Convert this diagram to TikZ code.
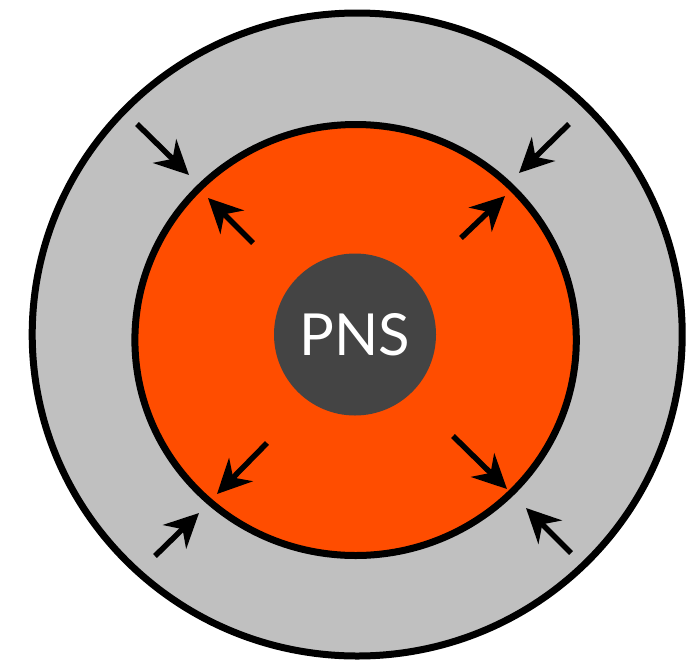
\documentclass[tikz,border=0pt]{standalone}
\usepackage{fontspec}
\setmainfont{Lato}
\usetikzlibrary{arrows.meta}
\definecolor{envgray}{HTML}{C0C0C0}
\definecolor{hotorange}{HTML}{FF4D00}
\definecolor{pnsgray}{HTML}{444444}
\begin{document}
\begin{tikzpicture}[x=1pt, y=-1pt, line width=7pt,
    flow/.style={-{Stealth[length=34pt, width=33pt, inset=11pt]}, line width=5.5pt}]
    \useasboundingbox (0,0) rectangle (698,662);
    % Outer envelope and hot shocked layer
    \draw[fill=envgray] (357.2,334.5) ellipse [x radius=325pt, y radius=321.5pt];
    \draw[fill=hotorange] (355.6,340) ellipse [x radius=220.7pt, y radius=215.5pt];
    % Proto-neutron star
    \node[circle, fill=pnsgray, minimum size=162pt, inner sep=0pt, text=white,
          font=\fontsize{58}{58}\selectfont] (pns) at (355,334.5) {PNS};
    % Accretion from outside, expansion from inside
    \foreach \n/\tx/\ty/\hx/\hy in {nwout/137/124/189/175, neout/569/124/519/173,
                                    swout/155/556/199/513, seout/571/553/526/508,
                                    nwin/253/243/208/198, nein/461/238/505/196,
                                    swin/267/443/217/494, sein/453/436/507/489}{
        \coordinate (\n tail) at (\tx,\ty);
        \coordinate (\n tip) at (\hx,\hy);
        \draw[flow] (\n tail) -- (\n tip);
    }
\end{tikzpicture}
\end{document}
